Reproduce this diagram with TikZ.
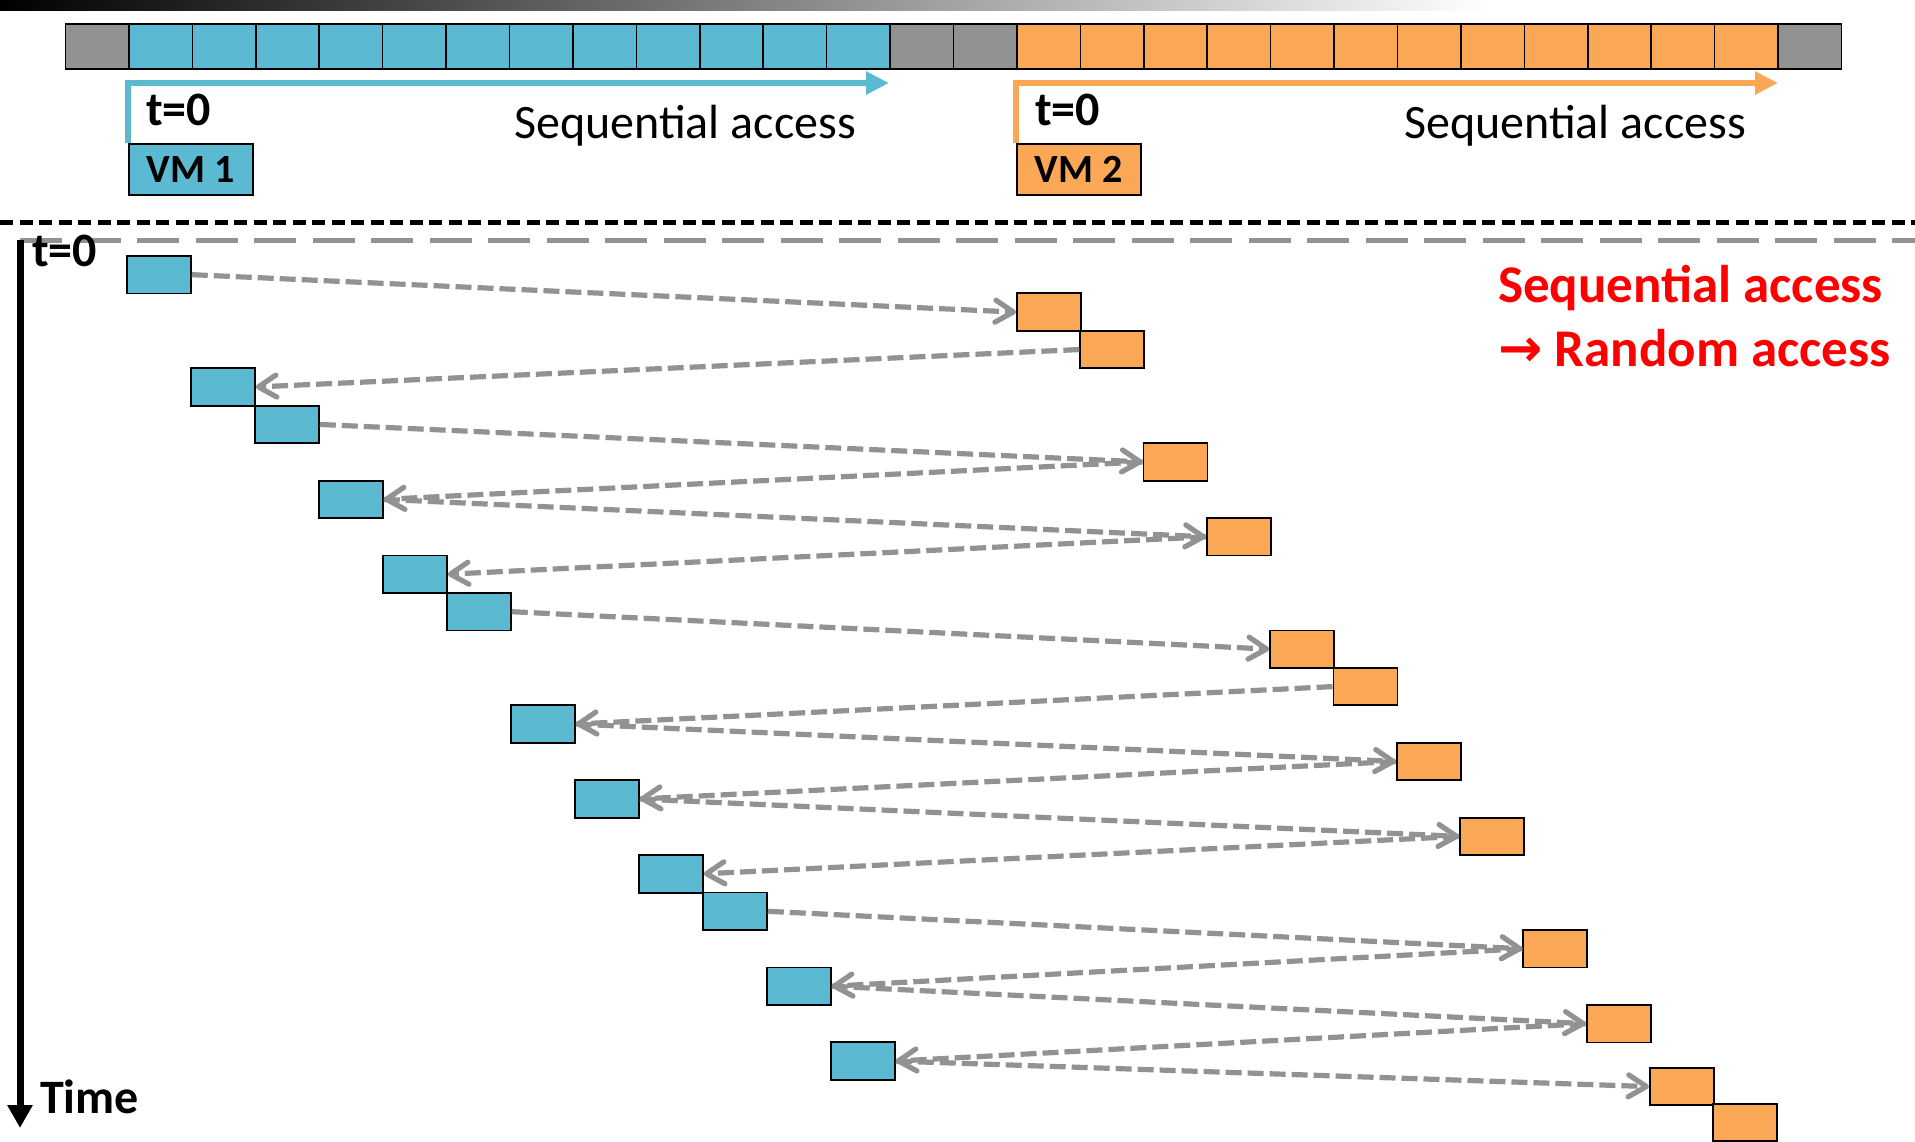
\documentclass[tikz,border=0pt]{standalone}
\usepackage{fontspec}
\setmainfont{Carlito}
\newfontfamily\arrowfont{DejaVu Sans}
\usetikzlibrary{
  arrows.meta,
  calc,
  positioning
}
\definecolor{vmblue}{RGB}{91,185,210}
\definecolor{vmorange}{RGB}{250,168,85}
\definecolor{cellgray}{RGB}{146,146,146}
\definecolor{hopgray}{RGB}{146,146,146}
\definecolor{alertred}{RGB}{255,0,0}
\tikzset{
  cell/.style={draw=black, line width=1.6, minimum width=63.43, minimum height=45,
    inner sep=0, anchor=north west},
  blk/.style={draw=black, line width=1.8, minimum width=64, minimum height=37.5,
    inner sep=0, anchor=north west},
  bblk/.style={blk, fill=vmblue},
  oblk/.style={blk, fill=vmorange},
  vmbox/.style={draw=black, line width=1.8, minimum width=124, minimum height=51,
    inner sep=0, anchor=north west, font=\fontsize{40}{48}\selectfont\bfseries},
  hop/.style={draw=hopgray, line width=5.2, dash pattern=on 16 off 6,
    -{Straight Barb[length=18pt,width=22pt,round]}},
  seqline/.style={line width=6.5, -{Triangle[length=23pt,width=22pt]}},
  lbl/.style={inner sep=0, anchor=base west, font=\fontsize{48}{58}\selectfont},
  boldlbl/.style={lbl, font=\fontsize{48}{58}\selectfont\bfseries},
  redlbl/.style={inner sep=0, anchor=base west, text=alertred,
    font=\fontsize{53}{64}\selectfont\bfseries}
}
\begin{document}
\begin{tikzpicture}[x=1pt, y=-1pt]
  \useasboundingbox (0,0) rectangle (1915,1141);

  \shade[left color=black, right color=white] (0,0) rectangle (1490,10);

  % disk blocks
  \foreach \i in {0,...,27}{
    \ifnum\i<1 \def\cellcol{cellgray}\else
    \ifnum\i<13 \def\cellcol{vmblue}\else
    \ifnum\i<15 \def\cellcol{cellgray}\else
    \ifnum\i<27 \def\cellcol{vmorange}\else
    \def\cellcol{cellgray}\fi\fi\fi\fi
    \node[cell, fill=\cellcol] (c\i) at ({64.7+63.43*\i},23) {};
  }

  \node[vmbox, fill=vmblue] (vm1) at (128,143) {VM 1};
  \node[vmbox, fill=vmorange] (vm2) at (1016,143) {VM 2};
  \coordinate (seq1end) at (889,83);
  \coordinate (seq2end) at (1778,83);
  \draw[seqline, vmblue] (vm1.north west) |- (seq1end);
  \draw[seqline, vmorange] (vm2.north west) |- (seq2end);

  \node[boldlbl] (t1) at (146,125) {t=0};
  \node[lbl] (seq1) at (514,138) {Sequential access};
  \node[boldlbl] (t2) at (1035,125) {t=0};
  \node[lbl] (seq2) at (1404,138) {Sequential access};

  \draw[line width=5, dash pattern=on 13 off 6.5] (0,222) -- (1915,222);
  \draw[hopgray, line width=5, dash pattern=on 42 off 16.5] (20,240) -- (1915,240);

  % time axis
  \coordinate (taxtop) at (20,240);
  \coordinate (taxend) at (20,1128);
  \draw[line width=7, -{Triangle[length=23pt,width=24pt]}] (taxtop) -- (taxend);
  \node[boldlbl] (t0) at (32,266) {t=0};
  \node[boldlbl] (time) at (40,1113) {Time};

  \node[redlbl] (red1) at (1498,302) {Sequential access};
  \node[redlbl] (red2) at (1498,366) {{\arrowfont\bfseries →} Random access};

  % accesses
  \foreach \i/\t in {1/0,2/3,3/4,4/6,5/8,6/9,7/12,8/14,9/16,10/17,11/19,12/21}
    \node[bblk] (b\i) at ({126+64*(\i-1)},{255+37.45*\t}) {};
  \foreach \j/\t in {1/1,2/2,3/5,4/7,5/10,6/11,7/13,8/15,9/18,10/20,11/21.68,12/22.64}
    \node[oblk] (o\j) at ({1016+63.3*(\j-1)},{255+37.45*\t}) {};

  \foreach \a/\b in {b1.east/o1.west, o2.west/b2.east, b3.east/o3.west,
      o3.west/b4.east, b4.east/o4.west, o4.west/b5.east, b6.east/o5.west,
      o6.west/b7.east, b7.east/o7.west, o7.west/b8.east, b8.east/o8.west,
      o8.west/b9.east, b10.east/o9.west, o9.west/b11.east, b11.east/o10.west,
      o10.west/b12.east, b12.east/o11.west}
    \draw[hop] (\a) -- (\b);
\end{tikzpicture}
\end{document}
